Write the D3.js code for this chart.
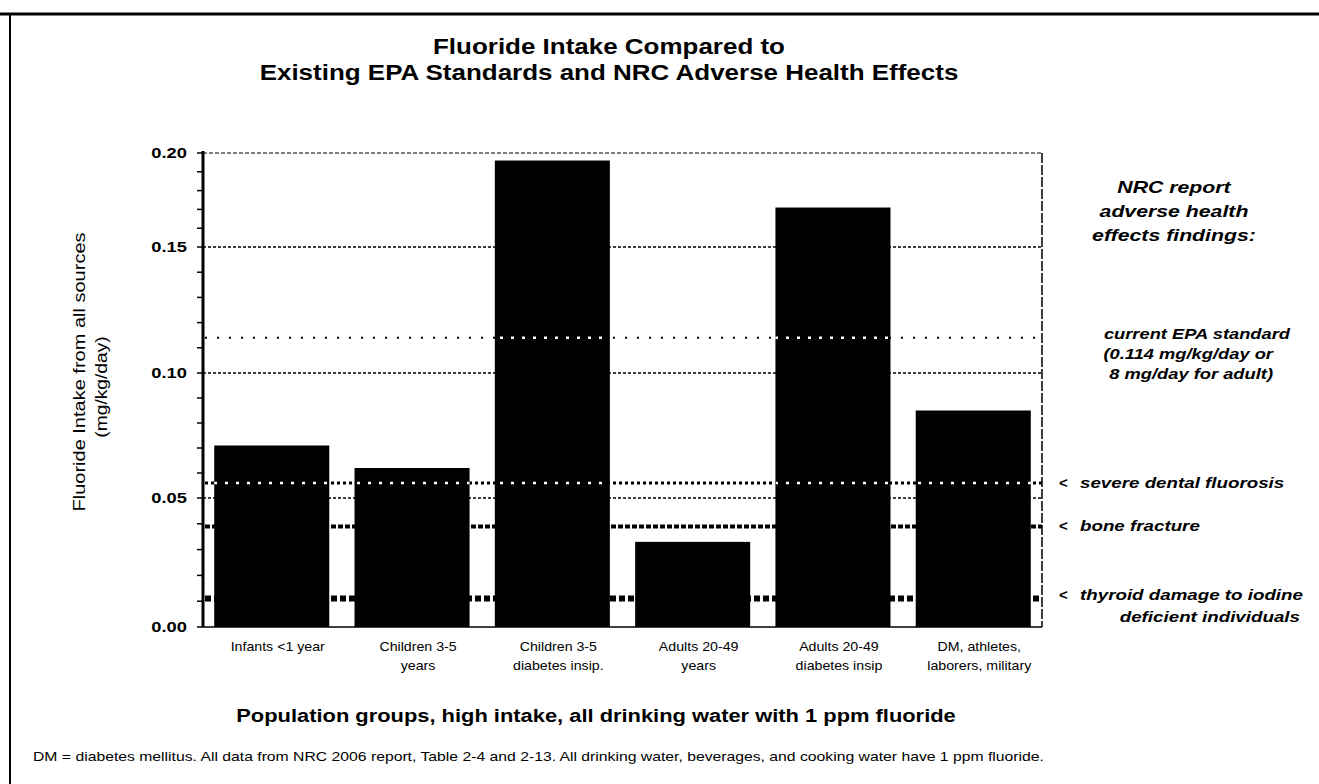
<!DOCTYPE html>
<html>
<head>
<meta charset="utf-8">
<title>Fluoride Intake Compared to Existing EPA Standards and NRC Adverse Health Effects</title>
<script src="https://cdn.jsdelivr.net/npm/d3@7"></script>
<style>
  body { margin: 0; background: #fff; }
  svg { display: block; }
  text { font-family: "Liberation Sans", Arial, Helvetica, sans-serif; fill: #000; }
</style>
</head>
<body>
<svg id="chart" width="1319" height="784"></svg>
<script>
// ---- data ----
const categories = [
  "Infants <1 year",
  "Children 3-5 years",
  "Children 3-5 diabetes insip.",
  "Adults 20-49 years",
  "Adults 20-49 diabetes insip",
  "DM, athletes, laborers, military"
];
const categoryLines = [
  ["Infants <1 year"],
  ["Children 3-5", "years"],
  ["Children 3-5", "diabetes insip."],
  ["Adults 20-49", "years"],
  ["Adults 20-49", "diabetes insip"],
  ["DM, athletes,", "laborers, military"]
];
// fluoride intake from all sources, mg/kg/day
const intake = [0.071, 0.062, 0.196, 0.033, 0.171, 0.085];

const yTickValues = [0.00, 0.05, 0.10, 0.15, 0.20];
const yTickLabels = ["0.00", "0.05", "0.10", "0.15", "0.20"];

// NRC adverse-effect levels and the EPA standard, mg/kg/day
const thresholdKeys   = ["epa", "dental", "bone", "thyroid"];
const thresholdValues = [0.114, 0.056, 0.039, 0.011];
const thresholdLabels = [
  ["current EPA standard", "(0.114 mg/kg/day or", "8 mg/day for adult)"],
  ["severe dental fluorosis"],
  ["bone fracture"],
  ["thyroid damage to iodine", "deficient individuals"]
];

const titleLines = ["Fluoride Intake Compared to",
                    "Existing EPA Standards and NRC Adverse Health Effects"];
const yTitleLines = ["Fluoride Intake from all sources", "(mg/kg/day)"];
const xTitle = "Population groups, high intake, all drinking water with 1 ppm fluoride";
const sideHeading = ["NRC report", "adverse health", "effects findings:"];
const footnote = "DM = diabetes mellitus.  All data from NRC 2006 report, Table 2-4 and 2-13.  All drinking water, beverages, and cooking water have 1 ppm fluoride.";

// ---- layout ----
const plot = { left: 203, right: 1042, top: 153, bottom: 627 };
// the typeface used here runs wide; stretch each label horizontally by this much
const WIDE = 1.22;

const svg = d3.select("#chart");

// widen a text element by a factor, keeping its anchor point
function widen(sel, factor) {
  sel.each(function () {
    const w = this.getComputedTextLength();
    d3.select(this).attr("textLength", w * factor).attr("lengthAdjust", "spacingAndGlyphs");
  });
}

// page frame
svg.append("line").attr("x1", 0).attr("x2", 1319).attr("y1", 14).attr("y2", 14)
  .attr("stroke", "#000").attr("stroke-width", 3);
svg.append("line").attr("x1", 10).attr("x2", 10).attr("y1", 14).attr("y2", 784)
  .attr("stroke", "#000").attr("stroke-width", 2);

// scales (value axis follows the printed tick spacing)
const x = d3.scaleBand()
  .domain(categories)
  .range([plot.left, plot.right])
  .paddingInner(0.18)
  .paddingOuter(0.08);

const y = d3.scaleLinear()
  .domain([0.00, 0.05, 0.10, 0.15, 0.20])
  .range([plot.bottom, 498, 373, 247, plot.top]);

// title
svg.append("g").selectAll("text").data(titleLines).join("text")
  .attr("x", 609).attr("y", (d, i) => 54 + i * 26)
  .attr("text-anchor", "middle")
  .attr("font-size", 22).attr("font-weight", "bold")
  .text(d => d)
  .call(widen, 1.18);

// gridlines
svg.append("g").selectAll("line").data([0.05, 0.10, 0.15]).join("line")
  .attr("x1", plot.left).attr("x2", plot.right)
  .attr("y1", d => y(d)).attr("y2", d => y(d))
  .attr("stroke", "#000").attr("stroke-width", 1.5)
  .attr("stroke-dasharray", "3,2");

// plot top and right borders
svg.append("line").attr("x1", plot.left).attr("x2", plot.right)
  .attr("y1", plot.top).attr("y2", plot.top)
  .attr("stroke", "#000").attr("stroke-width", 1.2).attr("stroke-dasharray", "4,2");
svg.append("line").attr("x1", plot.right).attr("x2", plot.right)
  .attr("y1", plot.top).attr("y2", plot.bottom)
  .attr("stroke", "#000").attr("stroke-width", 1.5).attr("stroke-dasharray", "10,2");

// threshold line styles on white background
const lineStyle = {
  epa:     { width: 2, dash: "2,10" },
  dental:  { width: 3, dash: "3,3" },
  bone:    { width: 4, dash: "5,2" },
  thyroid: { width: 6, dash: "6,3" }
};
const thresholds = thresholdKeys.map((k, i) => ({ key: k, value: thresholdValues[i], labels: thresholdLabels[i] }));

svg.append("g").selectAll("line").data(thresholds).join("line")
  .attr("x1", plot.left + 2).attr("x2", plot.right)
  .attr("y1", d => y(d.value)).attr("y2", d => y(d.value))
  .attr("stroke", "#000")
  .attr("stroke-width", d => lineStyle[d.key].width)
  .attr("stroke-dasharray", d => lineStyle[d.key].dash);

// bars
const barData = categories.map((c, i) => ({ cat: c, value: intake[i], lines: categoryLines[i] }));
svg.append("g").selectAll("rect").data(barData).join("rect")
  .attr("x", d => x(d.cat))
  .attr("width", x.bandwidth())
  .attr("y", d => y(d.value))
  .attr("height", d => y(0) - y(d.value))
  .attr("fill", "#000");

// EPA and dental lines show through the bars as white dashes
const clip = svg.append("defs").append("clipPath").attr("id", "bar-clip");
clip.selectAll("rect").data(barData).join("rect")
  .attr("x", d => x(d.cat))
  .attr("width", x.bandwidth())
  .attr("y", d => y(d.value))
  .attr("height", d => y(0) - y(d.value));

svg.append("g").attr("clip-path", "url(#bar-clip)")
  .selectAll("line").data(thresholds.filter(d => d.key === "epa" || d.key === "dental")).join("line")
  .attr("x1", plot.left).attr("x2", plot.right)
  .attr("y1", d => y(d.value)).attr("y2", d => y(d.value))
  .attr("stroke", "#fff").attr("stroke-width", 2.5)
  .attr("stroke-dasharray", "3,8");

// y axis with minor ticks every 0.01
const minorTicks = d3.range(0, 21).map(i => i / 100);
const yAxisG = svg.append("g");
yAxisG.selectAll("line.minor").data(minorTicks).join("line")
  .attr("class", "minor")
  .attr("x1", plot.left - 6).attr("x2", plot.left)
  .attr("y1", d => y(d)).attr("y2", d => y(d))
  .attr("stroke", "#000").attr("stroke-width", 1.5);
yAxisG.append("line")
  .attr("x1", plot.left).attr("x2", plot.left)
  .attr("y1", plot.top - 2).attr("y2", plot.bottom)
  .attr("stroke", "#000").attr("stroke-width", 3);
yAxisG.selectAll("text").data(yTickValues).join("text")
  .attr("x", plot.left - 16).attr("y", d => y(d) + 5)
  .attr("text-anchor", "end")
  .attr("font-size", 15).attr("font-weight", "bold")
  .text((d, i) => yTickLabels[i])
  .call(widen, WIDE);

// x axis baseline
svg.append("line").attr("x1", plot.left).attr("x2", plot.right)
  .attr("y1", plot.bottom).attr("y2", plot.bottom)
  .attr("stroke", "#000").attr("stroke-width", 1.5);

// category labels
const catText = svg.append("g").selectAll("g").data(barData).join("g");
catText.selectAll("text").data(d => d.lines.map(l => ({ l, cx: x(d.cat) + x.bandwidth() / 2 }))).join("text")
  .attr("x", d => d.cx + 6)
  .attr("y", (d, i) => 651 + i * 19)
  .attr("text-anchor", "middle")
  .attr("font-size", 13.5)
  .text(d => d.l)
  .call(widen, 1.05);

// axis titles
svg.append("text")
  .attr("x", 596).attr("y", 722)
  .attr("text-anchor", "middle")
  .attr("font-size", 17.5).attr("font-weight", "bold")
  .text(xTitle)
  .call(widen, 1.25);

svg.append("g").attr("transform", "translate(80,372) rotate(-90)")
  .append("text")
  .attr("x", 0).attr("y", 5)
  .attr("text-anchor", "middle")
  .attr("font-size", 16)
  .text(yTitleLines[0])
  .call(widen, 1.25);
svg.append("g").attr("transform", "translate(102,387) rotate(-90)")
  .append("text")
  .attr("x", 0).attr("y", 5)
  .attr("text-anchor", "middle")
  .attr("font-size", 16)
  .text(yTitleLines[1])
  .call(widen, 1.2);

// footnote
svg.append("text")
  .attr("x", 33).attr("y", 761)
  .attr("font-size", 13)
  .text(footnote)
  .call(widen, 1.21);

// right-hand annotations
svg.append("g").selectAll("text").data(sideHeading).join("text")
  .attr("x", 1174).attr("y", (d, i) => 193 + i * 24)
  .attr("text-anchor", "middle")
  .attr("font-size", 17).attr("font-weight", "bold").attr("font-style", "italic")
  .text(d => d)
  .call(widen, 1.25);

const ann = svg.append("g").attr("font-weight", "bold").attr("font-style", "italic").attr("font-size", 15);
// EPA standard block
ann.selectAll("text.epa").data(thresholds[0].labels).join("text")
  .attr("class", "epa")
  .attr("x", (d, i) => i === 0 ? 1290 : 1273)
  .attr("y", (d, i) => y(thresholds[0].value) + 1 + i * 20)
  .attr("text-anchor", "end")
  .text(d => d)
  .call(widen, 1.22);
// arrow-marked findings
thresholds.slice(1).forEach(t => {
  const ty = y(t.value) + 5 - (t.key === "thyroid" ? 4 : 0);
  ann.append("text").attr("x", 1059).attr("y", ty).attr("font-style", "normal").text("<");
  t.labels.forEach((l, i) => {
    const el = i === 0
      ? ann.append("text").attr("x", 1080).attr("y", ty)
      : ann.append("text").attr("x", 1300).attr("y", ty + i * 22).attr("text-anchor", "end");
    el.text(l).call(widen, 1.25);
  });
});
</script>
</body>
</html>
